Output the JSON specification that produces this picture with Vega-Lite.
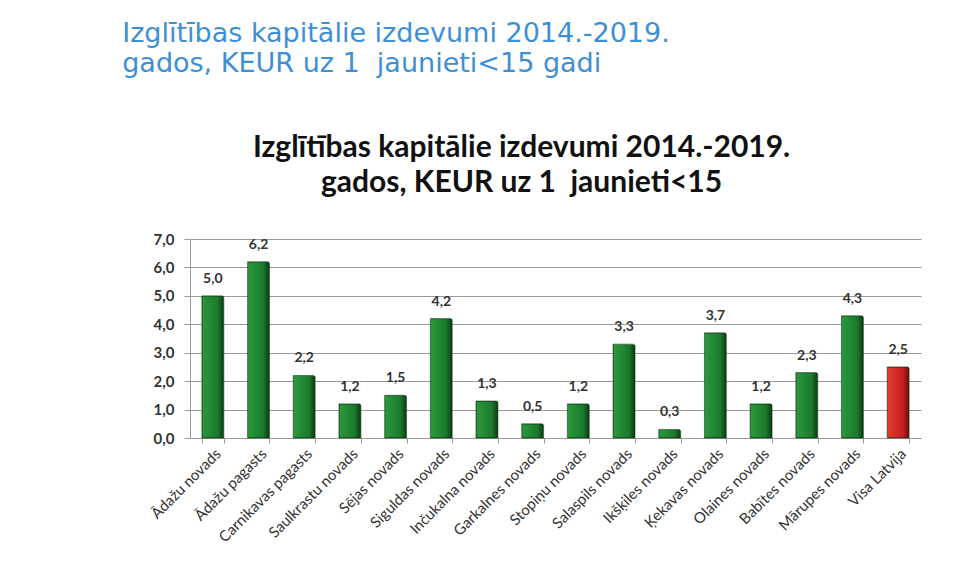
{
  "$schema": "https://vega.github.io/schema/vega-lite/v6.json",
  "background": "white",
  "padding": {"left": 122, "top": 20, "right": 10, "bottom": 0},
  "config": {
    "locale": {"number": {"decimal": ",", "thousands": " ", "grouping": [3], "currency": ["", " €"]}},
    "view": {"stroke": null},
    "concat": {"spacing": 0}
  },
  "title": {
    "text": ["Izglītības kapitālie izdevumi 2014.-2019.", "gados, KEUR uz 1\u00a0 jaunieti<15 gadi"],
    "anchor": "start",
    "frame": "bounds",
    "font": "DejaVu Sans",
    "fontSize": 27,
    "fontWeight": "normal",
    "lineHeight": 30,
    "color": "#3d8fd6",
    "dx": -26,
    "offset": 55
  },
  "vconcat": [
    {
      "width": 731,
      "height": 199,
      "title": {
        "text": ["Izglītības kapitālie izdevumi 2014.-2019.", "gados, KEUR uz 1\u00a0 jaunieti<15"],
        "anchor": "middle",
        "frame": "bounds",
        "font": "Lato",
        "fontSize": 30,
        "fontWeight": "bold",
        "lineHeight": 35,
        "color": "#111111",
        "dx": -13,
        "offset": 34
      },
      "data": {
        "values": [
          {"region": "Ādažu novads", "value": 5.0},
          {"region": "Ādažu pagasts", "value": 6.2},
          {"region": "Carnikavas pagasts", "value": 2.2},
          {"region": "Saulkrastu novads", "value": 1.2},
          {"region": "Sējas novads", "value": 1.5},
          {"region": "Siguldas novads", "value": 4.2},
          {"region": "Inčukalna novads", "value": 1.3},
          {"region": "Garkalnes novads", "value": 0.5},
          {"region": "Stopiņu novads", "value": 1.2},
          {"region": "Salaspils novads", "value": 3.3},
          {"region": "Ikšķiles novads", "value": 0.3},
          {"region": "Ķekavas novads", "value": 3.7},
          {"region": "Olaines novads", "value": 1.2},
          {"region": "Babītes novads", "value": 2.3},
          {"region": "Mārupes novads", "value": 4.3},
          {"region": "Visa Latvija", "value": 2.5}
        ]
      },
      "encoding": {
        "x": {
          "field": "region",
          "type": "nominal",
          "sort": null,
          "scale": {"paddingInner": 0.52, "paddingOuter": 0.26},
          "axis": {
            "title": null,
            "labelAngle": -45,
            "labelFont": "Lato",
            "labelFontSize": 15,
            "labelColor": "#333333",
            "domainColor": "#9a9a9a",
            "tickColor": "#9a9a9a",
            "tickBand": "extent",
            "tickSize": 5,
            "labelPadding": 3
          }
        },
        "y": {
          "field": "value",
          "type": "quantitative",
          "scale": {"domain": [0, 7], "nice": false},
          "axis": {
            "title": null,
            "values": [0, 1, 2, 3, 4, 5, 6, 7],
            "format": ".1f",
            "labelFont": "Lato",
            "labelFontWeight": "bold",
            "labelFontSize": 15,
            "labelColor": "#333333",
            "labelPadding": 10,
            "domainColor": "#9a9a9a",
            "tickColor": "#9a9a9a",
            "tickSize": 6,
            "gridColor": "#9a9a9a",
            "gridWidth": 1
          }
        }
      },
      "layer": [
        {
          "mark": {"type": "bar", "stroke": "#0a3010", "strokeWidth": 0.6, "cornerRadiusTopRight": 2},
          "encoding": {
            "color": {
              "condition": {
                "test": "datum.region === 'Visa Latvija'",
                "value": {"gradient": "linear", "x1": 0, "x2": 1, "y1": 0, "y2": 0, "stops": [{"offset": 0, "color": "#e23a2e"}, {"offset": 0.72, "color": "#c81e1e"}, {"offset": 1, "color": "#6e0c0c"}]}
              },
              "value": {"gradient": "linear", "x1": 0, "x2": 1, "y1": 0, "y2": 0, "stops": [{"offset": 0, "color": "#2a9a3c"}, {"offset": 0.72, "color": "#1b7a2c"}, {"offset": 1, "color": "#0a3a12"}]}
            }
          }
        },
        {
          "mark": {"type": "text", "dy": -10, "font": "Lato", "fontSize": 14, "fontWeight": "bold", "color": "#333333", "baseline": "bottom"},
          "encoding": {
            "text": {"field": "value", "type": "quantitative", "format": ".1f"}
          }
        }
      ]
    }
  ]
}
